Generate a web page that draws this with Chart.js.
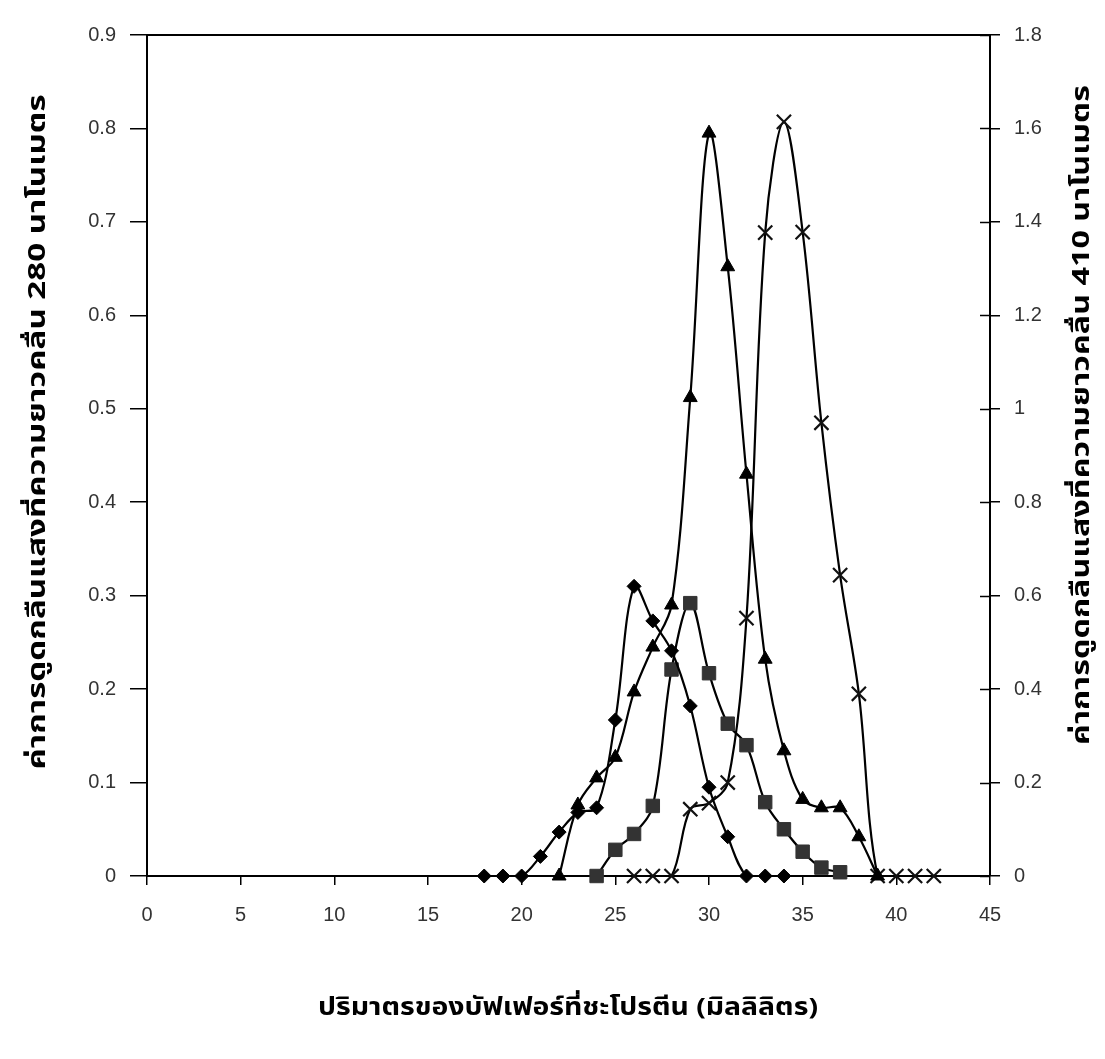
<!DOCTYPE html>
<html>
<head>
<meta charset="utf-8">
<script src="https://cdn.jsdelivr.net/npm/chart.js@4.4.1/dist/chart.umd.min.js"></script>
<style>
  html, body { margin: 0; padding: 0; background: #fff; }
  #wrap { width: 1105px; height: 1059px; position: relative; }
</style>
</head>
<body>
<div id="wrap"><canvas id="chart"></canvas></div>
<script>
    // fraction volume (ml) and absorbance readings for each series
    const volDiamond = [18, 19, 20, 21, 22, 23, 24, 25, 26, 27, 28, 29, 30, 31, 32, 33, 34];
    const absDiamond = [0, 0, 0, 0.021, 0.047, 0.068, 0.073, 0.167, 0.31, 0.273, 0.241, 0.182, 0.095, 0.042, 0, 0, 0];

    const volTriangle = [22, 23, 24, 25, 26, 27, 28, 29, 30, 31, 32, 33, 34, 35, 36, 37, 38, 39];
    const absTriangle = [0, 0.076, 0.105, 0.127, 0.197, 0.245, 0.29, 0.512, 0.795, 0.652, 0.43, 0.232, 0.134, 0.082, 0.073, 0.073, 0.042, 0];

    const volSquare = [24, 25, 26, 27, 28, 29, 30, 31, 32, 33, 34, 35, 36, 37];
    const absSquare = [0, 0.028, 0.045, 0.075, 0.221, 0.292, 0.217, 0.163, 0.14, 0.079, 0.05, 0.026, 0.009, 0.004];

    // read on the right axis (410 nm)
    const volCross = [26, 27, 28, 29, 30, 31, 32, 33, 34, 35, 36, 37, 38, 39, 40, 41, 42];
    const absCross = [0, 0, 0, 0.143, 0.156, 0.2, 0.552, 1.377, 1.614, 1.378, 0.97, 0.644, 0.39, 0, 0, 0, 0];

    const xTicks = [0, 5, 10, 15, 20, 25, 30, 35, 40, 45];
    const leftTicks = [0, 0.1, 0.2, 0.3, 0.4, 0.5, 0.6, 0.7, 0.8, 0.9];
    const rightTicks = [0, 0.2, 0.4, 0.6, 0.8, 1, 1.2, 1.4, 1.6, 1.8];

    const xTitle = 'ปริมาตรของบัฟเฟอร์ที่ชะโปรตีน (มิลลิลิตร)';
    const leftTitle = 'ค่าการดูดกลืนแสงที่ความยาวคลื่น 280 นาโนเมตร';
    const rightTitle = 'ค่าการดูดกลืนแสงที่ความยาวคลื่น 410 นาโนเมตร';

    const thaiFont = "'Noto Sans Thai', 'Tahoma', 'DejaVu Sans', sans-serif";
    const tickFont = { family: "'Liberation Sans', Arial, sans-serif", size: 20 };

    const pts = (xs, ys) => xs.map((x, i) => ({ x: x, y: ys[i] }));
    const fmt = v => String(+Number(v).toFixed(2));

    function series(xs, ys, style, radius, axis, fill) {
        return {
            data: pts(xs, ys),
            yAxisID: axis,
            borderColor: '#000',
            borderWidth: 2.2,
            backgroundColor: fill,
            pointStyle: style,
            pointRadius: radius,
            pointBackgroundColor: fill,
            pointBorderColor: style === 'crossRot' ? '#111' : fill,
            pointBorderWidth: style === 'crossRot' ? 2.2 : 1,
            tension: 0.35,
            clip: false,
            fill: false
        };
    }

    // title text stretched along its baseline to the length it has in the scan
    function title(ctx, text, x, y, rot, len) {
        ctx.save();
        ctx.translate(x, y);
        ctx.rotate(rot);
        ctx.font = 'bold 24px ' + thaiFont;
        const w = ctx.measureText(text).width;
        ctx.scale(len / w, 1);
        ctx.fillStyle = '#000';
        ctx.textAlign = 'center';
        ctx.textBaseline = 'middle';
        ctx.fillText(text, 0, 0);
        ctx.restore();
    }

    // top border line, inner ticks on the right axis and the axis titles
    const frame = {
        id: 'frame',
        afterDraw(chart) {
            const { ctx, chartArea: a } = chart;
            const y2 = chart.scales.y2;
            ctx.save();
            ctx.strokeStyle = '#000';
            ctx.lineWidth = 2;
            ctx.beginPath();
            ctx.moveTo(a.left, a.top);
            ctx.lineTo(a.right, a.top);
            ctx.stroke();
            ctx.lineWidth = 1.5;
            rightTicks.forEach(t => {
                const py = Math.round(y2.getPixelForValue(t)) + 0.5;
                ctx.beginPath();
                ctx.moveTo(a.right - 10, py);
                ctx.lineTo(a.right, py);
                ctx.stroke();
            });
            ctx.restore();
            title(ctx, xTitle, 568, 1010, 0, 500);
            title(ctx, leftTitle, 40, 432, -Math.PI / 2, 675);
            title(ctx, rightTitle, 1084, 415, -Math.PI / 2, 660);
        }
    };

    new Chart(document.getElementById('chart'), {
        type: 'line',
        data: {
            datasets: [
                series(volDiamond, absDiamond, 'rectRot', 7, 'y', '#000'),
                series(volTriangle, absTriangle, 'triangle', 8, 'y', '#000'),
                series(volSquare, absSquare, 'rect', 9.5, 'y', '#333'),
                series(volCross, absCross, 'crossRot', 10, 'y2', '#111')
            ]
        },
        options: {
            responsive: true,
            maintainAspectRatio: false,
            animation: false,
            layout: { padding: { top: 35, left: 0, right: 0, bottom: 0 } },
            plugins: { legend: { display: false }, tooltip: { enabled: false } },
            scales: {
                x: {
                    type: 'linear', min: 0, max: 45,
                    afterBuildTicks: s => { s.ticks = xTicks.map(v => ({ value: v })); },
                    afterFit: s => { s.height = 183; },
                    grid: { display: true, drawOnChartArea: false, drawTicks: true, tickLength: 9, color: '#000', lineWidth: 1.5 },
                    border: { display: true, color: '#000', width: 2 },
                    ticks: { color: '#333', font: tickFont, padding: 18, maxRotation: 0 }
                },
                y: {
                    type: 'linear', position: 'left', min: 0, max: 0.9,
                    afterBuildTicks: s => { s.ticks = leftTicks.map(v => ({ value: v })); },
                    afterFit: s => { s.width = 147; },
                    grid: { display: true, drawOnChartArea: false, drawTicks: true, tickLength: 17, color: '#000', lineWidth: 1.5 },
                    border: { display: true, color: '#000', width: 2 },
                    ticks: { color: '#333', font: tickFont, padding: 14, callback: fmt }
                },
                y2: {
                    type: 'linear', position: 'right', min: 0, max: 1.8,
                    afterBuildTicks: s => { s.ticks = rightTicks.map(v => ({ value: v })); },
                    afterFit: s => { s.width = 115; },
                    grid: { display: true, drawOnChartArea: false, drawTicks: true, tickLength: 10, color: '#000', lineWidth: 1.5 },
                    border: { display: true, color: '#000', width: 2 },
                    ticks: { color: '#333', font: tickFont, padding: 14, callback: fmt }
                }
            }
        },
        plugins: [frame]
    });
</script>
</body>
</html>
